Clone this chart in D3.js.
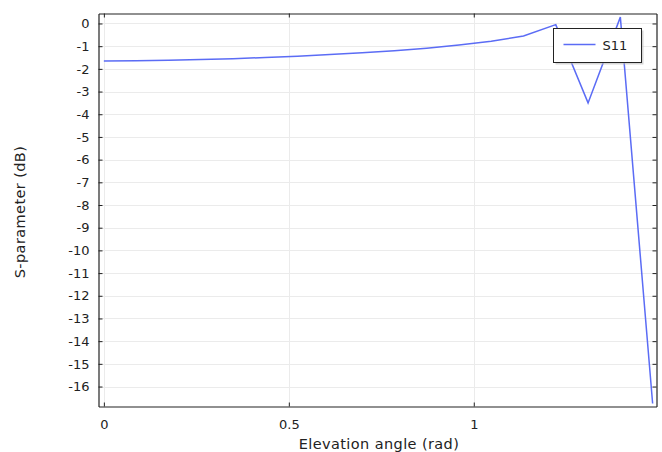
<!DOCTYPE html>
<html lang="en">
<head>
    <meta charset="UTF-8">
    <title>S11</title>
    <script src="https://d3js.org/d3.v7.min.js"></script>
    <style>
        body { margin: 0; background: #fff; }
        text {
            font-family: 'DejaVu Sans', sans-serif;
            font-size: 13px;
            fill: #222;
        }
        .title { font-size: 14.5px; letter-spacing: 0.4px; }
    </style>
</head>
<body>
<script>
    const width  = 662;
    const height = 452;

    // elevation angle in degrees, converted to rad below
    const angleDeg = [0, 5, 10, 15, 20, 25, 30, 35, 40, 45, 50, 55, 60, 65, 70, 75, 80, 85];
    const s11 = [-1.65, -1.64, -1.62, -1.59, -1.55, -1.50, -1.44, -1.37, -1.29, -1.20,
                 -1.09, -0.95, -0.78, -0.55, -0.05, -3.5, 0.28, -16.75];
    const xTicks = [0, 0.5, 1];
    const yTicks = d3.range(0, -17, -1);
    const seriesName = "S11";

    const data = angleDeg.map((d, i) => [d * Math.PI / 180, s11[i]]);

    const pLeft = 98.5, pRight = 656.5, pTop = 13.5, pBottom = 406.5;

    const x = d3.scaleLinear().domain([-0.0145, 1.494]).range([pLeft, pRight]);
    const y = d3.scaleLinear().domain([-16.88, 0.44]).range([pBottom, pTop]);

    const svg = d3.select("body").append("svg").attr("width", width).attr("height", height);

    // grid
    svg.append("g").selectAll("line").data(yTicks).enter().append("line")
        .attr("x1", pLeft).attr("x2", pRight)
        .attr("y1", d => Math.round(y(d)) + 0.5).attr("y2", d => Math.round(y(d)) + 0.5)
        .attr("stroke", "#ebebeb");
    svg.append("g").selectAll("line").data(xTicks).enter().append("line")
        .attr("y1", pTop).attr("y2", pBottom)
        .attr("x1", d => Math.round(x(d)) + 0.5).attr("x2", d => Math.round(x(d)) + 0.5)
        .attr("stroke", "#ebebeb");

    // axes with inward ticks
    const tk = 4;
    const plain = d => String(d);
    svg.append("g").attr("transform", "translate(" + pLeft + ",0)")
        .call(d3.axisLeft(y).tickValues(yTicks).tickSizeInner(-tk).tickSizeOuter(0).tickPadding(tk + 5).tickFormat(plain));
    svg.append("g").attr("transform", "translate(" + pRight + ",0)")
        .call(d3.axisRight(y).tickValues(yTicks).tickSizeInner(-tk).tickSizeOuter(0).tickFormat(""));
    svg.append("g").attr("transform", "translate(0," + pBottom + ")")
        .call(d3.axisBottom(x).tickValues(xTicks).tickSizeInner(-tk).tickSizeOuter(0).tickPadding(tk + 9).tickFormat(plain));
    svg.append("g").attr("transform", "translate(0," + pTop + ")")
        .call(d3.axisTop(x).tickValues(xTicks).tickSizeInner(-tk).tickSizeOuter(0).tickFormat(""));
    svg.selectAll(".domain").attr("stroke", "#222").attr("stroke-width", 1.2);
    svg.selectAll(".tick line").attr("stroke", "#222");
    svg.selectAll(".tick text").attr("font-size", "13px").attr("fill", "#222").attr("font-family", "'DejaVu Sans', sans-serif");

    // curve
    const line = d3.line().x(d => x(d[0])).y(d => y(d[1]));
    svg.append("path")
        .attr("d", line(data))
        .attr("fill", "none")
        .attr("stroke", "#5b6cf5")
        .attr("stroke-width", 1.5);

    // axis labels
    svg.append("text").attr("class", "title")
        .attr("x", 379).attr("y", 449)
        .attr("text-anchor", "middle")
        .text("Elevation angle (rad)");
    svg.append("text").attr("class", "title")
        .attr("transform", "translate(25,212) rotate(-90)")
        .attr("text-anchor", "middle")
        .text("S-parameter (dB)");

    // legend
    const lg = svg.append("g").attr("transform", "translate(553.5,28.5)");
    lg.append("rect").attr("x", 2).attr("y", 2).attr("width", 88).attr("height", 34)
        .attr("fill", "#bbb").attr("opacity", 0.6);
    lg.append("rect").attr("width", 88).attr("height", 34)
        .attr("fill", "#fff").attr("stroke", "#222");
    lg.append("line").attr("x1", 10).attr("x2", 42).attr("y1", 16).attr("y2", 16)
        .attr("stroke", "#5b6cf5").attr("stroke-width", 1.5);
    lg.append("text").attr("x", 49).attr("y", 21).attr("font-size", "14px").text(seriesName);
</script>
</body>
</html>
